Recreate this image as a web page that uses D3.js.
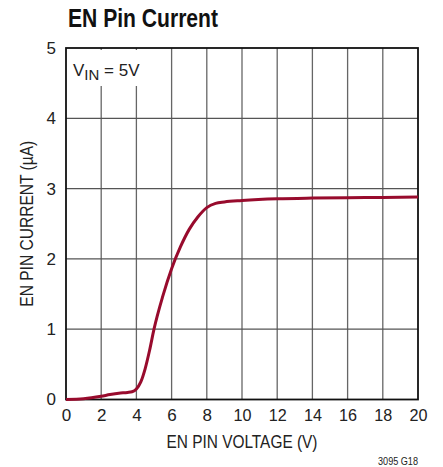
<!DOCTYPE html>
<html><head><meta charset="utf-8">
<script src="https://cdn.jsdelivr.net/npm/d3@7"></script>
<style>
body{margin:0;background:#fff;}
text{font-family:"Liberation Sans",Arial,sans-serif;}
</style></head>
<body>
<svg id="c" width="443" height="467"></svg>
<script>
const voltage = [0,1,2,2.5,3,3.5,3.75,4,4.25,4.5,4.75,5,5.5,6,6.5,7,7.5,8,8.5,9,10,12,14,16,18,20];
const current = [0,0.01,0.045,0.07,0.09,0.1,0.11,0.15,0.25,0.44,0.7,1.0,1.47,1.86,2.17,2.42,2.6,2.73,2.79,2.81,2.83,2.855,2.865,2.87,2.875,2.88];
const xTicks = [0,2,4,6,8,10,12,14,16,18,20];
const yTicks = [0,1,2,3,4,5];

const svg = d3.select("#c");
const L=66,R=418,T=48,B=399.5;
const x = d3.scaleLinear().domain([0,20]).range([L,R]);
const y = d3.scaleLinear().domain([0,5]).range([B,T]);

// grid
svg.append("g").selectAll("line").data(xTicks.slice(1,-1)).join("line")
  .attr("x1",d=>x(d)).attr("x2",d=>x(d)).attr("y1",T).attr("y2",B)
  .attr("stroke","#666").attr("stroke-width",1.3);
svg.append("g").selectAll("line").data(yTicks.slice(1,-1)).join("line")
  .attr("x1",L).attr("x2",R).attr("y1",d=>y(d)).attr("y2",d=>y(d))
  .attr("stroke","#555").attr("stroke-width",1.3);

// label background
svg.append("rect").attr("x",L+2).attr("y",T+2).attr("width",78).attr("height",36).attr("fill","#fff");

// frame
svg.append("rect").attr("x",L).attr("y",T).attr("width",R-L).attr("height",B-T)
  .attr("fill","none").attr("stroke","#111").attr("stroke-width",1.8);

// curve
const line = d3.line().x((d,i)=>x(voltage[i])).y(d=>y(d)).curve(d3.curveMonotoneX);
svg.append("path").datum(current).attr("d",line).attr("fill","none")
  .attr("stroke","#980b2d").attr("stroke-width",3).attr("stroke-linejoin","round");

// axes
const xAxis = d3.axisBottom(x).tickValues(xTicks).tickSize(0).tickPadding(9).tickFormat(d3.format("d"));
const gx = svg.append("g").attr("transform",`translate(0,${B})`).call(xAxis);
gx.select(".domain").remove();
gx.selectAll("text").attr("font-size",17).attr("fill","#222").attr("font-family",null)
  .attr("textLength",d=>d>=10?18:null).attr("lengthAdjust","spacingAndGlyphs");
const yAxis = d3.axisLeft(y).tickValues(yTicks).tickSize(0).tickPadding(10).tickFormat(d3.format("d"));
const gy = svg.append("g").attr("transform",`translate(${L},0)`).call(yAxis);
gy.select(".domain").remove();
gy.selectAll("text").attr("font-size",17).attr("fill","#222").attr("font-family",null);

// titles
svg.append("text").attr("x",68).attr("y",27).attr("font-size",25).attr("font-weight","bold")
  .attr("fill","#111").attr("textLength",150).attr("lengthAdjust","spacingAndGlyphs").text("EN Pin Current");
svg.append("text").attr("x",(L+R)/2).attr("y",448).attr("text-anchor","middle")
  .attr("font-size",18).attr("fill","#222").attr("textLength",151).attr("lengthAdjust","spacingAndGlyphs")
  .text("EN PIN VOLTAGE (V)");
svg.append("text").attr("transform",`translate(33,${(T+B)/2}) rotate(-90)`).attr("text-anchor","middle")
  .attr("font-size",18).attr("fill","#222").attr("textLength",166).attr("lengthAdjust","spacingAndGlyphs")
  .text("EN PIN CURRENT (µA)");
svg.append("text").attr("x",418).attr("y",465).attr("text-anchor","end")
  .attr("font-size",11).attr("fill","#222").attr("textLength",40).attr("lengthAdjust","spacingAndGlyphs").text("3095 G18");

const vin = svg.append("text").attr("x",73).attr("y",76).attr("font-size",17).attr("fill","#222");
vin.append("tspan").text("V");
vin.append("tspan").attr("dy",4).attr("font-size",15).text("IN");
vin.append("tspan").attr("dy",-4).text(" = 5V");
</script>
</body></html>
